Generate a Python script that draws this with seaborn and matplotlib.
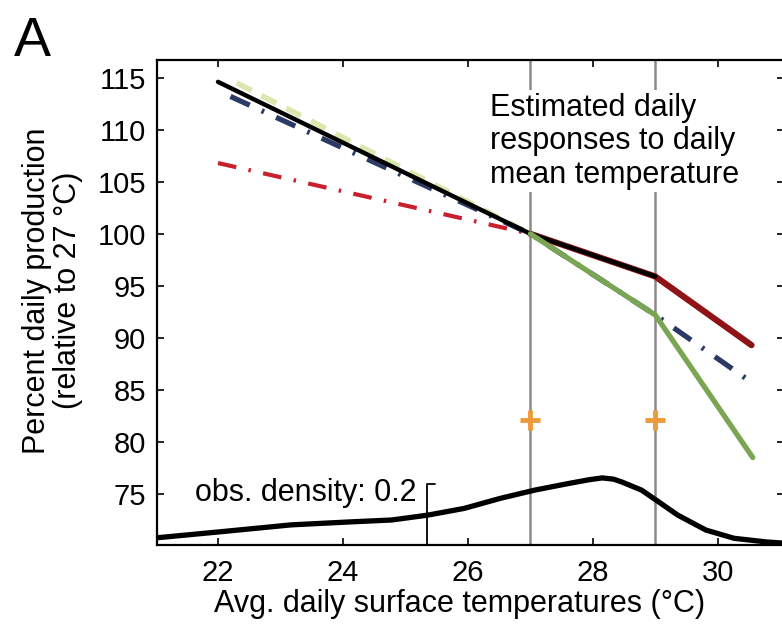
import numpy as np
import pandas as pd
import matplotlib
matplotlib.use("Agg")
import matplotlib.pyplot as plt
import seaborn as sns

# ---------------- data ----------------
black_t = [22.0, 27.0, 29.0]
black_v = [114.6, 100.0, 95.9]

red_thick_t = [27.0, 29.0, 30.54]
red_thick_v = [100.0, 95.9, 89.3]

red_dd_t = [22.0, 27.0]
red_dd_v = [106.8, 100.0]

blue_dd_t = [22.2, 27.0, 29.0, 30.5]
blue_dd_v = [113.2, 100.0, 92.2, 85.9]

green_pale_t = [22.3, 27.0]
green_pale_v = [114.5, 100.0]

green_t = [27.0, 29.0, 30.56]
green_v = [100.0, 92.2, 78.5]

thresholds = [27, 29]
marker_t = [27, 29]
marker_v = [82.1, 82.1]

dens_t = [21.04, 22.07, 23.17, 24.14, 24.78, 25.36, 25.94, 26.52, 27.07, 27.62,
          27.94, 28.15, 28.33, 28.46, 28.78, 29.05, 29.36, 29.81, 30.26, 30.78, 31.06]
dens_v = [0.024, 0.044, 0.066, 0.076, 0.082, 0.098, 0.120, 0.153, 0.180, 0.202,
          0.214, 0.220, 0.216, 0.207, 0.180, 0.142, 0.098, 0.049, 0.022, 0.010, 0.006]
dens_base = 70.1
dens_scale = 29.3   # y-units per unit density
dens_bar_t = 25.34
dens_bar_len = 0.2

xticks = [22, 24, 26, 28, 30]
yticks = [75, 80, 85, 90, 95, 100, 105, 110, 115]

# ---------------- plot ----------------
sns.set_theme(style="ticks")
plt.rcParams['font.family'] = ['Liberation Sans', 'DejaVu Sans']
plt.rcParams['text.color'] = 'black'
plt.rcParams['axes.labelcolor'] = 'black'
plt.rcParams['xtick.color'] = 'black'
plt.rcParams['ytick.color'] = 'black'

fig = plt.figure(figsize=(7.82, 6.33), dpi=100)
ax = fig.add_axes([157/782, 88/633, 627/782, 485/633])

for t in thresholds:
    ax.axvline(t, color="#8a8a8a", lw=1.8, zorder=1)

sns.lineplot(x=green_pale_t, y=green_pale_v, ax=ax, color="#d6e6a4", lw=4,
             linestyle=(0, (3, 2)), alpha=0.9, zorder=2)
sns.lineplot(x=red_dd_t, y=red_dd_v, ax=ax, color="#c8202c", lw=3,
             linestyle=(0, (4.5, 3, 0.6, 3)), zorder=3)
sns.lineplot(x=blue_dd_t, y=blue_dd_v, ax=ax, color="#2c3a66", lw=3.8,
             linestyle=(0, (4, 2.5, 0.5, 2.5)), zorder=3)
sns.lineplot(x=red_thick_t, y=red_thick_v, ax=ax, color="#8e1418", lw=4.5, zorder=4)
sns.lineplot(x=black_t, y=black_v, ax=ax, color="black", lw=3.2, zorder=5)
sns.lineplot(x=green_t, y=green_v, ax=ax, color="#7aa653", lw=3.8, zorder=6)

dens_y = [dens_base + d * dens_scale for d in dens_v]
sns.lineplot(x=dens_t, y=dens_y, ax=ax, color="black", lw=3.8, zorder=5)

ax.plot(marker_t, marker_v, linestyle="none", marker="+", ms=15, mew=3.5,
        color="#ee9a3a", zorder=7)

# density scale bar
bar_top = dens_base + dens_bar_len * dens_scale
ax.plot([dens_bar_t, dens_bar_t, dens_bar_t + 0.13], [dens_base, bar_top, bar_top],
        color="black", lw=1.3, zorder=4)
ax.text(25.18, 75.1, "obs. density: 0.2", ha="right", va="center", fontsize=22,
        color="black")

ax.text(26.35, 108.9, "Estimated daily\nresponses to daily\nmean temperature",
        ha="left", va="center", fontsize=22, linespacing=1.15, zorder=8,
        color="black", bbox=dict(facecolor="white", edgecolor="none", pad=2))

ax.set_xlim(21.024, 31.06)
ax.set_ylim(70.1, 116.7)
ax.set_xticks(xticks)
ax.set_yticks(yticks)
ax.tick_params(direction="in", top=True, right=True, length=5, width=1.2,
               labelsize=21, pad=8, colors="black")
ax.tick_params(axis="x", pad=10)
for s in ax.spines.values():
    s.set_linewidth(1.6)
    s.set_color("black")

ax.set_xlabel("Avg. daily surface temperatures (°C)", fontsize=22, color="black")
ax.set_ylabel("Percent daily production\n(relative to 27 °C)", fontsize=22,
              linespacing=1.05, color="black")
ax.xaxis.set_label_coords(0.483, -0.09)
ax.yaxis.set_label_coords(-0.118, 0.525)

fig.text(0.018, 0.975, "A", fontsize=40, ha="left", va="top", color="black")

fig.savefig("out.png", dpi=100)
